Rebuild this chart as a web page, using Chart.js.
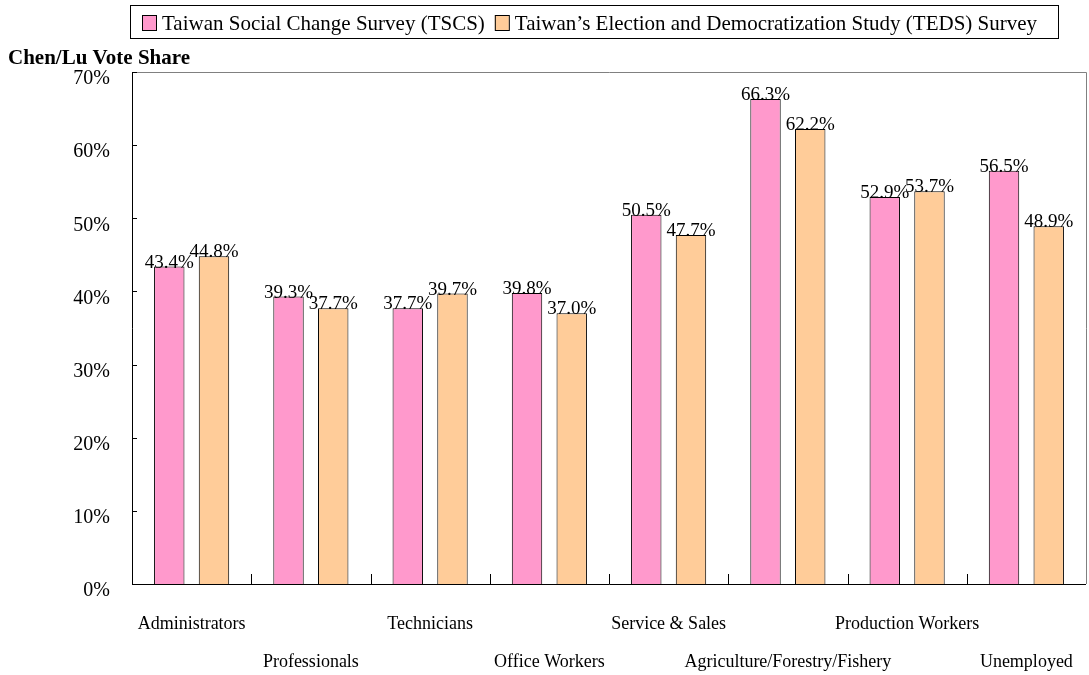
<!DOCTYPE html>
<html>
<head>
<meta charset="utf-8">
<title>Chen/Lu Vote Share by Occupation</title>
<script src="https://cdn.jsdelivr.net/npm/chart.js@4.4.1/dist/chart.umd.min.js"></script>
<style>
  html, body { margin: 0; padding: 0; background: #fff; }
  #wrap { width: 1089px; height: 675px; position: relative; }
</style>
</head>
<body>
<div id="wrap"><canvas id="voteChart"></canvas></div>
<script>
// occupation groups and vote share (%) from the two surveys
const occupations = ['Administrators', 'Professionals', 'Technicians', 'Office Workers',
  'Service & Sales', 'Agriculture/Forestry/Fishery', 'Production Workers', 'Unemployed'];
const tscsShare = [43.4, 39.3, 37.7, 39.8, 50.5, 66.3, 52.9, 56.5];
const tedsShare = [44.8, 37.7, 39.7, 37.0, 47.7, 62.2, 53.7, 48.9];
const seriesNames = ['Taiwan Social Change Survey (TSCS)',
  'Taiwan\u2019s Election and Democratization Study (TEDS) Survey'];
const yTicks = [0, 10, 20, 30, 40, 50, 60, 70];
const yTitle = 'Chen/Lu Vote Share';

const SERIF = '"Liberation Serif", "Times New Roman", serif';
const PINK = '#FF99CC';
const PEACH = '#FFCC99';

// axes, frame and tick marks
const framePlugin = {
  id: 'frame',
  afterDatasetsDraw(chart) {
    const { ctx, chartArea: a, scales } = chart;
    ctx.save();
    ctx.lineWidth = 1;
    ctx.strokeStyle = '#808080';
    ctx.beginPath();
    ctx.moveTo(a.left, a.top + 0.5);
    ctx.lineTo(a.right + 0.5, a.top + 0.5);
    ctx.lineTo(a.right + 0.5, a.bottom);
    ctx.stroke();

    ctx.strokeStyle = '#000';
    ctx.beginPath();
    ctx.moveTo(a.left + 0.5, a.top);
    ctx.lineTo(a.left + 0.5, a.bottom + 0.5);
    ctx.lineTo(a.right, a.bottom + 0.5);
    // y ticks point inward
    yTicks.forEach(v => {
      const y = Math.round(scales.y.getPixelForValue(v)) + 0.5;
      ctx.moveTo(a.left, y);
      ctx.lineTo(a.left + 5, y);
    });
    // category boundary ticks rise from the x axis
    for (let i = 0; i < occupations.length - 1; i++) {
      const x = Math.round((scales.x.getPixelForValue(i) + scales.x.getPixelForValue(i + 1)) / 2) + 0.5;
      ctx.moveTo(x, a.bottom);
      ctx.lineTo(x, a.bottom - 10);
    }
    ctx.stroke();
    ctx.restore();
  }
};

// percentage labels above each bar
const valuePlugin = {
  id: 'values',
  afterDatasetsDraw(chart) {
    const { ctx } = chart;
    ctx.save();
    ctx.font = '19px ' + SERIF;
    ctx.fillStyle = '#000';
    ctx.textAlign = 'center';
    ctx.textBaseline = 'alphabetic';
    chart.data.datasets.forEach((ds, di) => {
      chart.getDatasetMeta(di).data.forEach((bar, i) => {
        ctx.fillText(ds.data[i].toFixed(1) + '%', bar.x, bar.y + 1);
      });
    });
    ctx.restore();
  }
};

// boxed legend and the axis title
const headerPlugin = {
  id: 'header',
  afterDraw(chart) {
    const { ctx } = chart;
    ctx.save();
    ctx.strokeStyle = '#000';
    ctx.lineWidth = 1;
    ctx.strokeRect(130.5, 5.5, 928, 33);

    ctx.font = '21px ' + SERIF;
    ctx.fillStyle = '#000';
    ctx.textBaseline = 'alphabetic';
    let x = 142;
    [PINK, PEACH].forEach((color, i) => {
      ctx.fillStyle = color;
      ctx.fillRect(x, 15, 14, 15);
      ctx.strokeStyle = '#000';
      ctx.strokeRect(x + 0.5, 15.5, 14, 15);
      ctx.fillStyle = '#000';
      ctx.fillText(seriesNames[i], x + 20, 30);
      x += 20 + ctx.measureText(seriesNames[i]).width + 10;
    });

    ctx.font = 'bold 21px ' + SERIF;
    ctx.fillText(yTitle, 8, 64);
    ctx.restore();
  }
};

new Chart(document.getElementById('voteChart'), {
  type: 'bar',
  data: {
    labels: occupations,
    datasets: [
      { label: seriesNames[0], data: tscsShare, backgroundColor: PINK,
        borderColor: '#000', borderWidth: 1, categoryPercentage: 0.75, barPercentage: 0.68 },
      { label: seriesNames[1], data: tedsShare, backgroundColor: PEACH,
        borderColor: '#000', borderWidth: 1, categoryPercentage: 0.75, barPercentage: 0.68 }
    ]
  },
  options: {
    responsive: true,
    maintainAspectRatio: false,
    animation: false,
    layout: { padding: { top: 72, right: 3, left: 0, bottom: 0 } },
    plugins: {
      legend: { display: false },
      title: { display: false },
      tooltip: { enabled: false }
    },
    scales: {
      x: {
        grid: { display: false },
        border: { display: false },
        ticks: {
          color: '#000',
          font: { family: SERIF, size: 18, lineHeight: 2.12 },
          maxRotation: 0,
          minRotation: 0,
          autoSkip: false,
          padding: 13,
          // alternate labels between two rows
          callback: (v, i) => i % 2 === 0 ? [occupations[i], ''] : ['', occupations[i]]
        },
        afterFit: scale => { scale.height = 91; }
      },
      y: {
        min: 0,
        max: 70,
        grid: { display: false },
        border: { display: false },
        afterBuildTicks: scale => { scale.ticks = yTicks.map(v => ({ value: v })); },
        ticks: {
          color: '#000',
          font: { family: SERIF, size: 20 },
          padding: 14,
          labelOffset: 7,
          callback: v => v + '%'
        },
        afterFit: scale => { scale.width = 132; }
      }
    }
  },
  plugins: [framePlugin, valuePlugin, headerPlugin]
});
</script>
</body>
</html>
